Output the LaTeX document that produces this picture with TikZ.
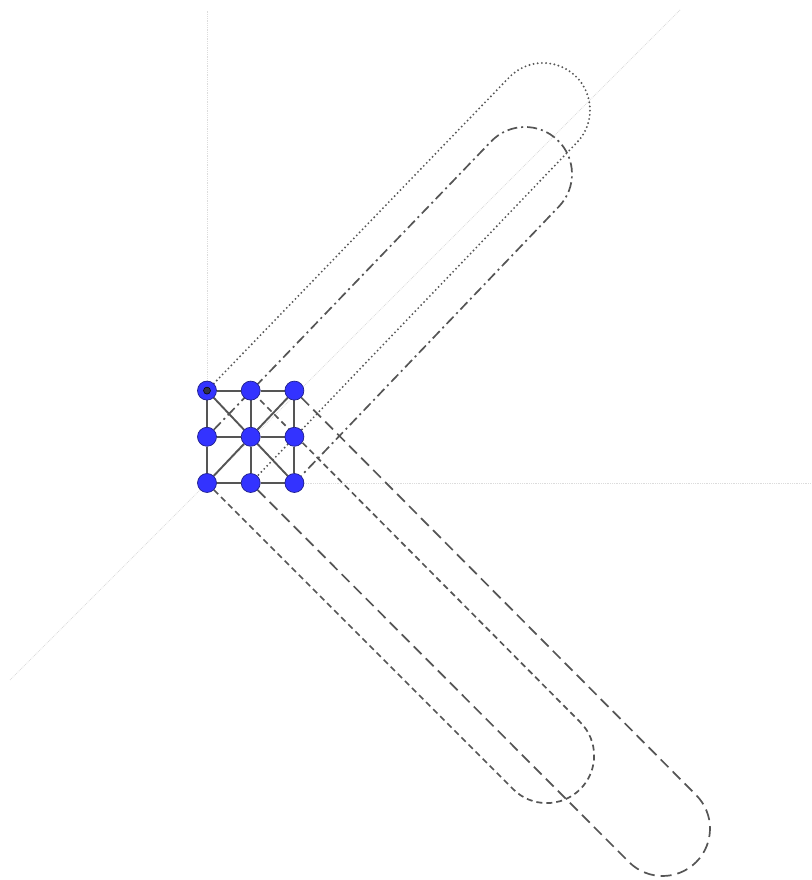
\documentclass[tikz,border=0pt]{standalone}
\usetikzlibrary{positioning,calc,backgrounds}
\definecolor{latInk}{HTML}{555555}
\definecolor{latNode}{HTML}{3333FF}
\definecolor{latNodeEdge}{HTML}{1F1F8C}
\definecolor{latAxis}{HTML}{DCDCDC}
\definecolor{latOrigin}{HTML}{333344}
\tikzset{
  lat/vertex/.style={circle, fill=latNode, draw=latNodeEdge, line width=0.7pt,
    minimum size=19pt, inner sep=0pt},
  lat/origin/.style={circle, fill=latOrigin, draw=black, line width=0.5pt,
    minimum size=7pt, inner sep=0pt},
  lat/edge/.style={draw=latInk, line width=1.9pt},
  lat/axis/.style={draw=latAxis, line width=0.8pt, densely dotted},
  lat/loop/.style={draw=latInk, line width=1.7pt},
  lat/dotloop/.style={lat/loop, line width=2.1pt, line cap=round,
    dash pattern=on 0pt off 4.2pt},
  lat/dashdotloop/.style={lat/loop, dash pattern=on 10pt off 4pt on 2pt off 4pt},
  lat/shortdash/.style={lat/loop, dash pattern=on 6pt off 4pt},
  lat/longdash/.style={lat/loop, dash pattern=on 11pt off 6pt},
}

\begin{document}
\begin{tikzpicture}[x=1pt, y=1pt, node distance=26.5pt and 24pt]
\useasboundingbox (0,0) rectangle (811,880);
% 3x3 lattice
\node[lat/vertex] (bl) at (207,397) {};
\node[lat/vertex, right=of bl] (bc) {};
\node[lat/vertex, right=of bc] (br) {};
\node[lat/vertex, above=of bl] (ml) {};
\node[lat/vertex, right=of ml] (mc) {};
\node[lat/vertex, right=of mc] (mr) {};
\node[lat/vertex, above=of ml] (tl) {};
\node[lat/vertex, right=of tl] (tc) {};
\node[lat/vertex, right=of tc] (tr) {};
\node[lat/origin] (orig) at (tl) {};
% arc centres of the loops
\coordinate (capA) at (543,770);
\coordinate (capB) at (525,706);
\coordinate (capC) at (546.7,124.3);
\coordinate (capD) at (662.6,51.4);
% axis ends
\coordinate (zend) at (207,870);
\coordinate (xend) at (811,397);
\coordinate (ybeg) at (10,200);
\coordinate (yend) at (680,870);
\begin{scope}[on background layer]
\draw[lat/axis] (bl.center) -- (zend);
\draw[lat/axis] (bl.center) -- (xend);
\draw[lat/axis] (ybeg) -- (yend);
\draw[lat/dotloop] (tl) -- ($(capA)+(136.2:47)$)
  arc[start angle=136.2, delta angle=-180, radius=47] -- (bc);
\draw[lat/dashdotloop] (ml) -- ($(capB)+(136.2:47)$)
  arc[start angle=136.2, delta angle=-180, radius=47] -- (br);
\draw[lat/shortdash] (bl) -- ($(capC)+(-135:47.4)$)
  arc[start angle=-135, delta angle=180, radius=47.4] -- (tc);
\draw[lat/longdash] (bc) -- ($(capD)+(-135:47.4)$)
  arc[start angle=-135, delta angle=180, radius=47.4] -- (tr);
\draw[lat/edge] (tl) -- (tc) -- (tr);
\draw[lat/edge] (ml) -- (mc) -- (mr);
\draw[lat/edge] (bl) -- (bc) -- (br);
\draw[lat/edge] (tl) -- (ml) -- (bl);
\draw[lat/edge] (tc) -- (mc) -- (bc);
\draw[lat/edge] (tr) -- (mr) -- (br);
\draw[lat/edge] (tl) -- (mc) -- (br);
\draw[lat/edge] (tr) -- (mc) -- (bl);
\end{scope}
\end{tikzpicture}
\end{document}
